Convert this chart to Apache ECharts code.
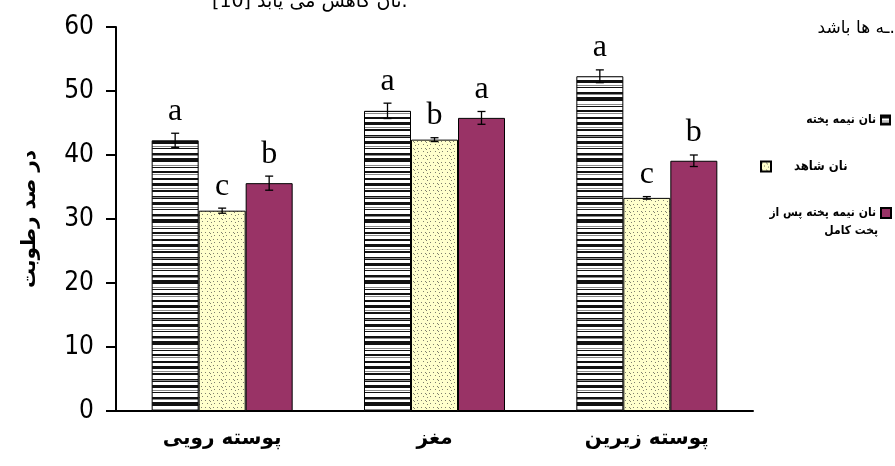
<!DOCTYPE html>
<html>
<head>
<meta charset="utf-8">
<script src="https://cdn.jsdelivr.net/npm/echarts@6/dist/echarts.min.js"></script>
<style>
  html, body { margin: 0; padding: 0; background: #fff; }
  #chart { width: 895px; height: 466px; }
</style>
</head>
<body>
<div id="chart"></div>
<script>
// 数据
const categories = ['پوسته رویی', 'مغز', 'پوسته زیرین'];
const seriesNames = ['نان نیمه پخته', 'نان شاهد', 'نان نیمه پخته پس از پخت کامل'];
const halfBaked = [42.3, 46.9, 52.3];
const control = [31.3, 42.4, 33.3];
const fullyBaked = [35.6, 45.8, 39.1];
const halfBakedErr = [1.1, 1.2, 1.0];
const controlErr = [0.4, 0.3, 0.2];
const fullyBakedErr = [1.1, 1.0, 0.9];
const halfBakedLetters = ['a', 'a', 'a'];
const controlLetters = ['c', 'b', 'c'];
const fullyBakedLetters = ['b', 'a', 'b'];
const yTicks = [0, 10, 20, 30, 40, 50, 60];

const BAR_W = 47;
const FA_FONT = '"DejaVu Sans", sans-serif';
const LEGEND_FONT = '"DejaVu Sans Condensed", "DejaVu Sans", sans-serif';

// 横条纹图案
function makeStripePattern() {
    const rows = 'kkkwwgwkkwwwwkgkwwwkkkwwgwkwwwwkkgwwkkkkwwwgwkwwwkkwgwwwkkwww';
    const c = document.createElement('canvas');
    c.width = 8;
    c.height = rows.length;
    const ctx = c.getContext('2d');
    const map = { k: '#111', w: '#fff', g: '#8a8a8a' };
    for (let i = 0; i < rows.length; i++) {
        ctx.fillStyle = map[rows[i]];
        ctx.fillRect(0, i, 8, 1);
    }
    return c;
}

// 黄色点状图案
function makeDotPattern() {
    const c = document.createElement('canvas');
    c.width = 12;
    c.height = 14;
    const ctx = c.getContext('2d');
    ctx.fillStyle = '#ffffcc';
    ctx.fillRect(0, 0, 12, 14);
    ctx.fillStyle = 'rgba(60,60,60,0.65)';
    [[1, 1], [5, 1], [6, 2], [9, 1], [3, 4], [7, 5], [10, 4], [1, 8], [5, 8], [6, 9], [9, 8], [3, 11], [7, 12], [10, 11]].forEach(p => {
        ctx.fillRect(p[0], p[1], 1, 1);
    });
    return c;
}

const stripe = { image: makeStripePattern(), repeat: 'repeat' };
const dots = { image: makeDotPattern(), repeat: 'repeat' };

const barSets = [
    { name: seriesNames[0], values: halfBaked, err: halfBakedErr, letters: halfBakedLetters, color: stripe },
    { name: seriesNames[1], values: control, err: controlErr, letters: controlLetters, color: dots },
    { name: seriesNames[2], values: fullyBaked, err: fullyBakedErr, letters: fullyBakedLetters, color: '#993366' }
];

// 误差线 + 字母标记数据
const errData = [];
barSets.forEach((s, si) => {
    s.values.forEach((v, ci) => {
        errData.push([ci, si, v, s.err[ci], s.letters[ci]]);
    });
});

const chart = echarts.init(document.getElementById('chart'));

const barSeries = barSets.map(s => ({
    name: s.name,
    type: 'bar',
    data: s.values,
    barWidth: BAR_W,
    barGap: '0%',
    itemStyle: { color: s.color, borderColor: '#000', borderWidth: 1 },
    emphasis: { disabled: true },
    animation: false
}));

const legendText = { fontFamily: LEGEND_FONT, fontWeight: 'bold', fontSize: 12, color: '#000' };

const option = {
    backgroundColor: '#fff',
    animation: false,
    grid: { left: 116, right: 142, top: 27, bottom: 55 },
    xAxis: {
        type: 'category',
        data: categories,
        axisLine: { lineStyle: { color: '#000', width: 2 } },
        axisTick: { show: false },
        axisLabel: {
            color: '#000',
            fontFamily: FA_FONT,
            fontWeight: 'bold',
            fontSize: 20,
            margin: 18
        }
    },
    yAxis: {
        type: 'value',
        min: yTicks[0],
        max: yTicks[yTicks.length - 1],
        interval: 10,
        name: 'در صد رطوبت',
        nameLocation: 'middle',
        nameGap: 76,
        nameRotate: 90,
        nameTextStyle: { color: '#000', fontFamily: FA_FONT, fontWeight: 'bold', fontSize: 20 },
        axisLine: { show: true, lineStyle: { color: '#000', width: 2 } },
        axisTick: { show: true, length: 10, lineStyle: { color: '#000', width: 2 } },
        axisLabel: {
            color: '#000',
            fontFamily: '"Liberation Sans Narrow", "DejaVu Sans Condensed", "Liberation Sans", sans-serif',
            fontSize: 26,
            margin: 22
        },
        splitLine: { show: false }
    },
    legend: [
        {
            data: [seriesNames[0]],
            right: 4,
            top: 114,
            padding: 0,
            align: 'right',
            icon: 'rect',
            itemWidth: 9,
            itemHeight: 9,
            itemGap: 3,
            textStyle: legendText,
            selectedMode: false
        },
        {
            data: [seriesNames[1]],
            left: 760,
            top: 160,
            padding: 0,
            align: 'left',
            icon: 'rect',
            itemWidth: 10,
            itemHeight: 10,
            textStyle: Object.assign({}, legendText, { fontSize: 13, padding: [0, 0, 0, 18] }),
            selectedMode: false
        },
        {
            data: [seriesNames[2]],
            right: 3,
            top: 207,
            padding: 0,
            align: 'right',
            icon: 'rect',
            itemWidth: 10,
            itemHeight: 10,
            formatter: () => 'نان نیمه پخته پس از',
            textStyle: legendText,
            selectedMode: false
        }
    ],
    graphic: [
        {
            type: 'text',
            right: 17,
            top: 225,
            style: { text: 'پخت کامل', font: 'bold 12px ' + LEGEND_FONT, fill: '#000' }
        },
        {
            type: 'text',
            left: 212,
            top: -7,
            style: { text: 'نان کاهش می یابد [10].', font: '19px "DejaVu Sans", sans-serif', fill: '#000' }
        },
        {
            type: 'text',
            right: 0,
            top: 20,
            style: { text: 'ـه ها باشد.', font: '17px "DejaVu Sans", sans-serif', fill: '#000' }
        }
    ],
    series: barSeries.concat([{
        type: 'custom',
        name: 'err',
        data: errData,
        encode: { x: 0, y: 2 },
        z: 5,
        silent: true,
        renderItem(params, api) {
            const ci = api.value(0);
            const si = api.value(1);
            const v = api.value(2);
            const e = api.value(3);
            const letter = errData[params.dataIndex][4];
            const cx = api.coord([ci, 0])[0] + (si - 1) * BAR_W;
            const top = api.coord([ci, v + e])[1];
            const bot = api.coord([ci, v - e])[1];
            const style = { stroke: '#000', lineWidth: 1.3 };
            return {
                type: 'group',
                children: [
                    { type: 'line', shape: { x1: cx, y1: top, x2: cx, y2: bot }, style },
                    { type: 'line', shape: { x1: cx - 4, y1: top, x2: cx + 4, y2: top }, style },
                    { type: 'line', shape: { x1: cx - 4, y1: bot, x2: cx + 4, y2: bot }, style },
                    {
                        type: 'text',
                        x: cx,
                        y: top - 6,
                        style: {
                            text: letter,
                            font: '32px "Liberation Serif", "DejaVu Serif", serif',
                            fill: '#000',
                            align: 'center',
                            verticalAlign: 'bottom'
                        }
                    }
                ]
            };
        }
    }])
};

chart.setOption(option);
</script>
</body>
</html>
